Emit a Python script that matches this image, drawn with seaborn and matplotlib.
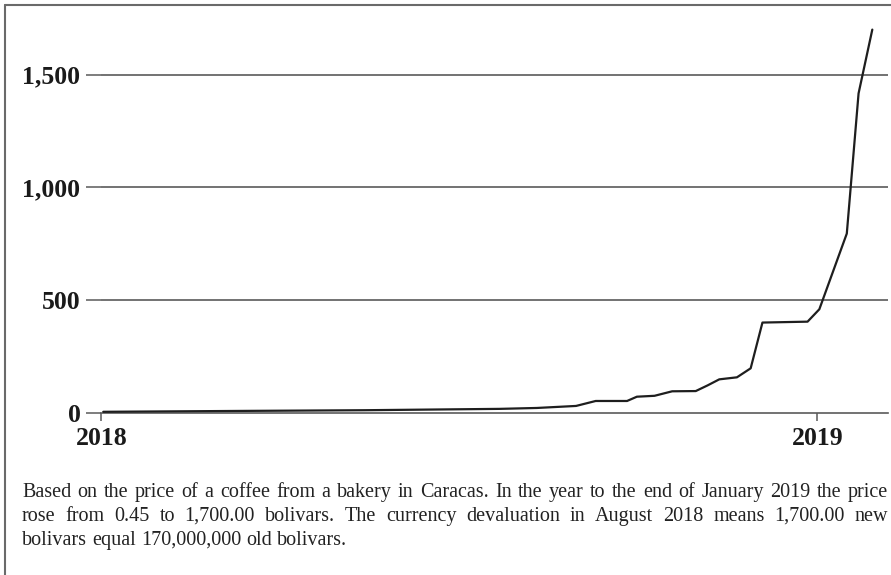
import numpy as np
import pandas as pd
import matplotlib
matplotlib.use("Agg")
import matplotlib.pyplot as plt
from matplotlib.lines import Line2D
import seaborn as sns

# price of a coffee in Caracas, new bolivars
dates = ["2018-01-02", "2018-03-15", "2018-05-15", "2018-07-23", "2018-08-11",
         "2018-08-31", "2018-09-10", "2018-09-26", "2018-10-01", "2018-10-10",
         "2018-10-19", "2018-10-31", "2018-11-06", "2018-11-12", "2018-11-21",
         "2018-11-28", "2018-12-04", "2018-12-27", "2019-01-02", "2019-01-16",
         "2019-01-22", "2019-01-29"]
prices = [4, 8, 11, 17, 21,
          30, 52, 52, 71, 75,
          95, 96, 121, 148, 157,
          197, 400, 404, 459, 795,
          1417, 1700]

ytick_vals = [0, 500, 1000, 1500]
ytick_labels = ["0", "500", "1,000", "1,500"]
xtick_dates = ["2018-01-01", "2019-01-01"]
xtick_labels = ["2018", "2019"]

caption_lines = [
    "Based on the price of a coffee from a bakery in Caracas. In the year to the end of January 2019 the price",
    "rose from 0.45 to 1,700.00 bolivars. The currency devaluation in August 2018 means 1,700.00 new",
    "bolivars equal 170,000,000 old bolivars.",
]

sns.set_style("white")
plt.rcParams["font.family"] = ["Liberation Serif", "DejaVu Serif"]

W, H = 891, 575
fig = plt.figure(figsize=(W / 100, H / 100), dpi=100)
ax = fig.add_axes([101.3 / W, 1 - 412.7 / H, (888 - 101.3) / W, (412.7 - 10) / H])

df = pd.DataFrame({"date": pd.to_datetime(dates), "price": prices})
sns.lineplot(data=df, x="date", y="price", ax=ax, color="#1e1e1e", linewidth=1.6, zorder=5)

ax.set_xlim(pd.Timestamp("2018-01-01"), pd.Timestamp("2019-02-06"))
ax.set_ylim(0, 1787)

grey = "#5a5a5a"
ax.set_yticks(ytick_vals)
ax.set_yticklabels(ytick_labels, fontsize=18.5, fontweight="bold", color="#1a1a1a")
ax.set_xticks(pd.to_datetime(xtick_dates))
ax.set_xticklabels(xtick_labels, fontsize=18.5, fontweight="bold", color="#1a1a1a")
ax.tick_params(axis="y", length=10.5, width=1.1, color=grey, pad=4.5, left=True)
ax.tick_params(axis="x", length=5.5, width=1.1, color=grey, pad=5, bottom=True)

for v in ytick_vals[1:]:
    ax.axhline(v, color=grey, linewidth=1.2, zorder=1)

for s in ["top", "right", "left"]:
    ax.spines[s].set_visible(False)
ax.spines["bottom"].set_color(grey)
ax.spines["bottom"].set_linewidth(1.2)
ax.set_xlabel("")
ax.set_ylabel("")

# outer frame (left and top only)
fig.add_artist(Line2D([4.5 / W, 4.5 / W], [0, 1 - 4.5 / H], color="#6a6a6a", linewidth=1.5))
fig.add_artist(Line2D([4.5 / W, 1], [1 - 4.5 / H, 1 - 4.5 / H], color="#6a6a6a", linewidth=1.5))

# justified caption
renderer = fig.canvas.get_renderer()
cap_kw = dict(fontsize=14.5, color="#222222", va="baseline", ha="left")
x0, x1 = 22, 888
baselines = [497, 521, 545]


def text_width(s):
    t = fig.text(0, 0, s, **cap_kw)
    w = t.get_window_extent(renderer).width
    t.remove()
    return w


space_w = text_width("x x") - text_width("xx")
for i, line in enumerate(caption_lines):
    words = line.split(" ")
    widths = [text_width(w) for w in words]
    if i < len(caption_lines) - 1:
        gap = (x1 - x0 - sum(widths)) / (len(words) - 1)
    else:
        gap = space_w
    x = x0
    for w, wd in zip(words, widths):
        fig.text(x / W, 1 - baselines[i] / H, w, **cap_kw)
        x += wd + gap

fig.savefig("out.png", dpi=100)
